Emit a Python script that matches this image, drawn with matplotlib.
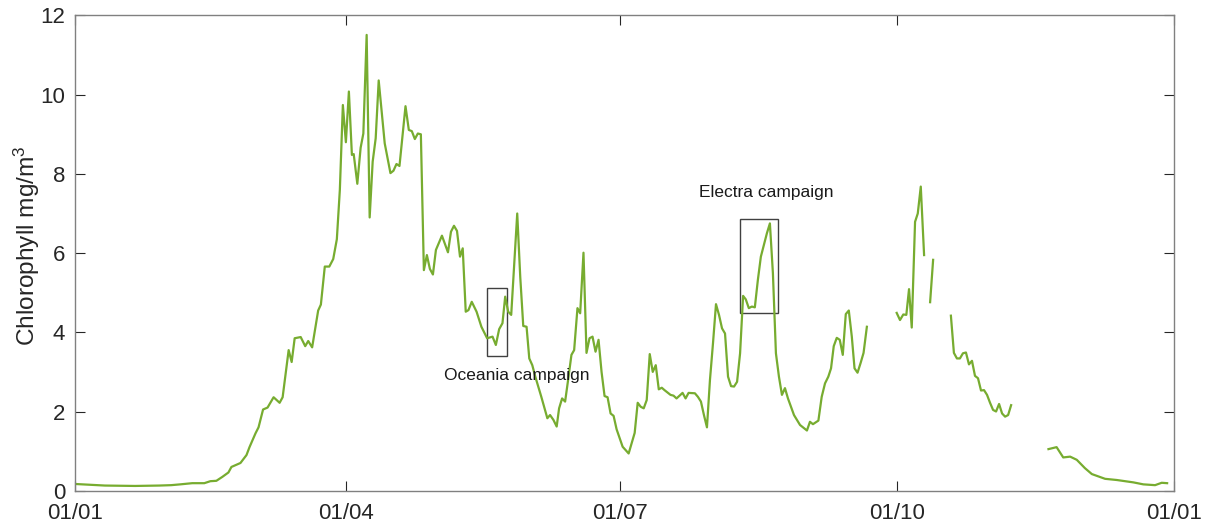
import numpy as np
import matplotlib
matplotlib.use("Agg")
import matplotlib.pyplot as plt
from matplotlib.patches import Rectangle

plt.rcParams['font.family'] = ['Liberation Sans', 'DejaVu Sans']
plt.rcParams['mathtext.default'] = 'regular'

# day of year (non-leap year) and chlorophyll (mg/m3); NaN marks missing data
days = [0, 5, 10, 20, 28, 32, 35, 39, 43, 45, 47, 49, 51, 52, 55, 57, 58, 60, 61, 62.5,
        64, 66, 68, 69, 71, 72, 73, 75, 76.5, 77.5, 78.8, 80.8, 81.7, 83, 84.5, 85.8, 87, 88, 89, 90,
        91, 92, 92.6, 93.8, 94.9, 95.8, 96.9, 97.9, 98.9, 99.9, 100.9, 102.9, 104.8, 105.8, 106.8, 107.8,
        109.8, 110.9, 111.9, 112.9, 113.9, 114.9, 115.9, 116.9, 117.9, 118.9, 119.9, 121.9, 123.9, 124.9,
        125.9, 126.9, 127.9, 128.8, 129.8, 130.7, 131.8, 133.4, 135, 136.9, 138.7, 139.8, 140.9, 142,
        142.9, 143.9, 144.9, 146.9, 147.9, 148.9, 150, 150.9, 151.9, 152.9, 154.9, 156.9, 157.8, 158.9,
        160, 160.8, 161.8, 162.8, 163.8, 164.9, 165.8, 166.9, 167.8, 168.9, 169.9, 170.9, 171.9, 172.9,
        173.9, 174.9, 175.9, 176.9, 177.9, 178.9, 179.9, 181.9, 183.9, 185.9, 186.9, 187.9, 188.9, 189.9,
        190.9, 191.9, 192.9, 193.9, 194.9, 195.8, 197.8, 198.8, 199.8, 201.8, 202.8, 203.8, 205.9, 206.9,
        207.9, 208.9, 209.9, 210.9, 211.9, 212.9, 213.9, 214.9, 215.9, 216.9, 217.9, 218.9, 219.9, 220.9,
        221.9, 222.8, 223.8, 224.8, 225.8, 226.8, 227.8, 229.8, 230.8, 231.8, 232.8, 233.8, 234.8, 235.8,
        236.8, 238.8, 240.8, 243.1, 244.1, 245.1, 246.9, 248, 249.1, 250.2, 251.1, 252, 253, 254, 255,
        256, 257, 258, 258.9, 259.9, 260.9, 261.9, 263, 268,
        272.9, 274, 275.1, 276.1, 277, 277.9, 279, 279.9, 280.9, 282, 283,
        284, 285, 288,
        290.9, 291.9, 292.9, 293.9, 294.9, 295.9, 296.9, 297.9, 298.9, 299.9, 300.9, 301.9, 302.9, 303.9,
        304.9, 305.9, 306.9, 307.9, 308.9, 309.9, 310.9, 317,
        323.3, 326, 328.2, 330.5, 332.7, 335.4, 337.7, 342.1, 346, 351.5, 354.8, 358.7, 360.9, 362.7]
chl = [0.17, 0.15, 0.13, 0.12, 0.13, 0.14, 0.16, 0.19, 0.19, 0.24, 0.25, 0.35, 0.46, 0.6, 0.7, 0.9, 1.1, 1.45, 1.6, 2.05,
       2.1, 2.36, 2.22, 2.36, 3.55, 3.25, 3.85, 3.88, 3.65, 3.78, 3.62, 4.55, 4.7, 5.66, 5.66, 5.85, 6.35, 7.6, 9.74, 8.8,
       10.08, 8.48, 8.5, 7.75, 8.66, 9.02, 11.51, 6.9, 8.31, 8.9, 10.36, 8.77, 8.02, 8.08, 8.25, 8.2,
       9.71, 9.11, 9.08, 8.88, 9.02, 9.0, 5.57, 5.95, 5.6, 5.46, 6.08, 6.44, 6.02, 6.54,
       6.69, 6.56, 5.91, 6.12, 4.52, 4.56, 4.77, 4.52, 4.14, 3.85, 3.89, 3.68, 4.08, 4.23,
       4.9, 4.52, 4.44, 7.0, 5.4, 4.16, 4.14, 3.34, 3.17, 2.88, 2.37, 1.83, 1.91, 1.79,
       1.62, 2.08, 2.33, 2.25, 2.8, 3.43, 3.55, 4.61, 4.48, 6.01, 3.48, 3.85, 3.89, 3.51,
       3.81, 3.0, 2.39, 2.36, 1.95, 1.89, 1.55, 1.11, 0.94, 1.46, 2.22, 2.12, 2.08, 2.29,
       3.45, 3.0, 3.17, 2.56, 2.6, 2.54, 2.42, 2.4, 2.33, 2.47, 2.33, 2.47, 2.46, 2.37,
       2.25, 1.91, 1.6, 2.8, 3.72, 4.71, 4.44, 4.1, 3.97, 2.88, 2.64, 2.63, 2.75, 3.47,
       4.92, 4.83, 4.61, 4.65, 4.63, 5.32, 5.91, 6.5, 6.75, 5.49, 3.47, 2.88, 2.42, 2.59,
       2.33, 1.91, 1.66, 1.52, 1.74, 1.68, 1.77, 2.37, 2.71, 2.88, 3.09, 3.65, 3.86, 3.81, 3.43,
       4.46, 4.55, 3.89, 3.09, 2.98, 3.22, 3.48, 4.14, np.nan,
       4.49, 4.31, 4.45, 4.44, 5.09, 4.12, 6.79, 7.0, 7.68, 5.95, np.nan,
       4.76, 5.83, np.nan,
       4.42, 3.48, 3.34, 3.34, 3.47, 3.49, 3.19, 3.28, 2.9, 2.84, 2.53, 2.54, 2.42, 2.22,
       2.04, 2.0, 2.19, 1.95, 1.87, 1.91, 2.16, np.nan,
       1.05, 1.1, 0.84, 0.86, 0.78, 0.57, 0.42, 0.3, 0.27, 0.21, 0.16, 0.14, 0.2, 0.19]

tick_days = [0, 90, 181, 273, 365]
tick_labels = ['01/01', '01/04', '01/07', '01/10', '01/01']

# campaign boxes: start day, end day, low, high
oceania = (136.9, 143.6, 3.41, 5.13)
electra = (221.0, 233.6, 4.50, 6.86)

fig = plt.figure(figsize=(12.07, 5.29), dpi=100)
ax = fig.add_axes([0.062, 0.0724, 0.9107, 0.8983])

ax.plot(days, chl, color='#77AC30', lw=1.6)

for box in (oceania, electra):
    ax.add_patch(Rectangle((box[0], box[2]), box[1] - box[0], box[3] - box[2],
                           fill=False, edgecolor='#404040', lw=1.0))
ax.text(146.6, 2.9, 'Oceania campaign', ha='center', va='center', fontsize=12.5, color='#1a1a1a')
ax.text(229.6, 7.52, 'Electra campaign', ha='center', va='center', fontsize=12.5, color='#1a1a1a')

ax.set_xlim(0, 365)
ax.set_ylim(0, 12)
ax.set_xticks(tick_days)
ax.set_xticklabels(tick_labels)
ax.set_yticks(range(0, 13, 2))
ax.tick_params(direction='in', length=7, width=0.8, color='#262626', labelcolor='#262626',
               labelsize=16, top=True, right=True)
ax.tick_params(axis='x', pad=9)
ax.tick_params(axis='y', pad=7)
for s in ax.spines.values():
    s.set_color('#808080')
    s.set_linewidth(1.0)
ax.set_ylabel('Chlorophyll mg/m$^3$', fontsize=17.6, color='#262626')
ax.yaxis.set_label_coords(-0.030, 0.515)

fig.savefig('out.png', dpi=100)
